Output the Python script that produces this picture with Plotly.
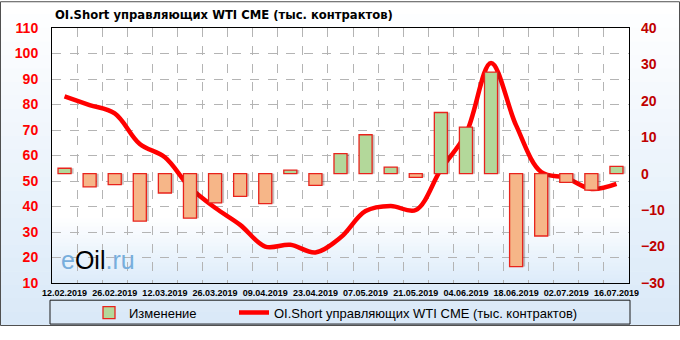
import plotly.graph_objects as go

# ---------------- data ----------------
dates = ["12.02.2019", "19.02.2019", "26.02.2019", "05.03.2019", "12.03.2019",
         "19.03.2019", "26.03.2019", "02.04.2019", "09.04.2019", "16.04.2019",
         "23.04.2019", "30.04.2019", "07.05.2019", "14.05.2019", "21.05.2019",
         "28.05.2019", "04.06.2019", "11.06.2019", "18.06.2019", "25.06.2019",
         "02.07.2019", "09.07.2019", "16.07.2019"]
oi_short = [83.2, 79.8, 76.5, 64.5, 59.3, 47.5, 39.5, 32.8, 24.3, 25.0, 22.0, 27.8,
            38.2, 40.2, 38.6, 54.5, 68.5, 96.3, 71.8, 53.5, 51.2, 46.9, 48.9]
change = [1.5, -3.6, -3.0, -13.0, -5.3, -12.2, -8.0, -6.2, -8.2, 1.0, -3.2, 5.5,
          10.7, 1.8, -1.0, 16.8, 12.8, 27.9, -25.5, -17.1, -2.4, -4.5, 2.0]
left_ticks = list(range(10, 111, 10))
right_ticks = list(range(-30, 41, 10))

title_text = "OI.Short управляющих WTI CME (тыс. контрактов)"
bar_name = "Изменение"
line_name = "OI.Short управляющих WTI CME (тыс. контрактов)"

# ---------------- geometry helpers (pixels -> paper) ----------------
W, H = 680, 340
L, R, T, B = 52, 629, 28, 295
pw, ph = R - L, B - T


def px(x):
    return (x - L) / pw


def py(y):
    return (B - y) / ph


def blend(c1, c2, t):
    return "rgb(%d,%d,%d)" % tuple(round(a + (b - a) * t) for a, b in zip(c1, c2))


idx = list(range(len(dates)))
bar_colors = ["#B3D89A" if v >= 0 else "#F6B688" for v in change]

fig = go.Figure()
# soft shadow behind bars
fig.add_trace(go.Bar(
    x=idx, y=change, yaxis="y2", showlegend=False, hoverinfo="skip",
    marker=dict(color="rgba(70,50,40,0.30)", line=dict(width=0)),
    width=0.58, offset=-0.22,
))
fig.add_trace(go.Bar(
    x=idx, y=change, yaxis="y2", name=bar_name, legend="legend",
    marker=dict(color=bar_colors, line=dict(color="#E8231C", width=1.3)),
    width=0.52, offset=-0.26,
))
fig.add_trace(go.Scatter(
    x=idx, y=oi_short, yaxis="y", name=line_name, mode="lines", legend="legend2",
    line=dict(color="#FF0000", width=4.5, shape="spline", smoothing=1.0),
))

shapes = []
# figure background gradient
nb = 24
for k in range(nb):
    y0 = k * H / nb
    y1 = (k + 1) * H / nb
    shapes.append(dict(type="rect", xref="paper", yref="paper", layer="below",
                       x0=px(0), x1=px(W), y0=py(y1), y1=py(y0) + 0.002,
                       fillcolor=blend((255, 255, 255), (218, 233, 248), k / (nb - 1)),
                       line=dict(width=0)))
# plot area background
shapes.append(dict(type="rect", xref="paper", yref="paper", layer="below",
                   x0=0, x1=1, y0=0, y1=1, fillcolor="#FFFFFF", line=dict(width=0)))
g0 = 228
nb2 = 16
for k in range(nb2):
    y0 = g0 + k * (B - g0) / nb2
    y1 = g0 + (k + 1) * (B - g0) / nb2
    shapes.append(dict(type="rect", xref="paper", yref="paper", layer="below",
                       x0=0, x1=1, y0=py(y1), y1=py(y0) + 0.002,
                       fillcolor=blend((255, 255, 255), (222, 236, 250), (k + 1) / nb2),
                       line=dict(width=0)))
# legend box
shapes.append(dict(type="rect", xref="paper", yref="paper", layer="above",
                   x0=px(50), x1=px(630), y0=py(338), y1=py(313),
                   fillcolor="rgba(0,0,0,0)", line=dict(color="#1A1A1A", width=1)))
# outer border
shapes.append(dict(type="rect", xref="paper", yref="paper", layer="above",
                   x0=px(0.5), x1=px(W - 0.5), y0=py(H - 0.5), y1=py(0.5),
                   fillcolor="rgba(0,0,0,0)", line=dict(color="#505050", width=1)))

annotations = [
    dict(text="<b>" + title_text + "</b>", xref="paper", yref="paper",
         x=px(53), y=py(14), xanchor="left", yanchor="middle", showarrow=False,
         font=dict(family="DejaVu Sans", size=11.6, color="#000000")),
    dict(text="<span style='color:#78AEDC'>e</span>Oil<span style='color:#78AEDC'>.ru</span>",
         xref="paper", yref="paper", x=px(59), y=py(271), xanchor="left", yanchor="middle",
         showarrow=False, font=dict(family="Liberation Sans", size=25, color="#000000")),
]

grid_col = "#B4B4B4"
leg_font = dict(family="Liberation Sans", size=13, color="#000000")
fig.update_layout(
    width=W, height=H,
    margin=dict(l=L, r=W - R, t=T, b=H - B, pad=0),
    paper_bgcolor="rgba(0,0,0,0)", plot_bgcolor="rgba(0,0,0,0)",
    showlegend=True, barmode="overlay",
    shapes=shapes, annotations=annotations,
    legend=dict(orientation="h", x=px(89), xanchor="left", y=py(326), yanchor="middle",
                bgcolor="rgba(0,0,0,0)", font=leg_font),
    legend2=dict(orientation="h", x=px(234), xanchor="left", y=py(326), yanchor="middle",
                 bgcolor="rgba(0,0,0,0)", font=leg_font),
    xaxis=dict(range=[-0.5, len(dates) - 0.5], tickvals=idx[::2], ticktext=dates[::2],
               showgrid=False, zeroline=False, ticks="", ticklabelstandoff=1,
               tickfont=dict(family="Liberation Sans", size=9, color="#000000", weight="bold"),
               showline=True, linecolor="#000000", linewidth=1, mirror=True,
               minor=dict(tickvals=[i + 0.5 for i in idx[:-1]], showgrid=True,
                          gridcolor=grid_col, griddash="dash", gridwidth=1)),
    yaxis=dict(range=[10, 110], tickvals=left_ticks, showgrid=True, gridcolor=grid_col,
               griddash="dash", gridwidth=1, zeroline=False, ticks="", ticklabelstandoff=10,
               tickfont=dict(family="Liberation Sans", size=14, color="#FF0000", weight="bold"),
               showline=True, linecolor="#000000", linewidth=1, mirror=True),
    yaxis2=dict(range=[-30, 40], tickvals=right_ticks, overlaying="y", side="right",
                showgrid=False, zeroline=False, ticks="", ticklabelstandoff=11,
                tickfont=dict(family="Liberation Sans", size=14, color="#C00000", weight="bold")),
)

fig.write_html("out.html")
